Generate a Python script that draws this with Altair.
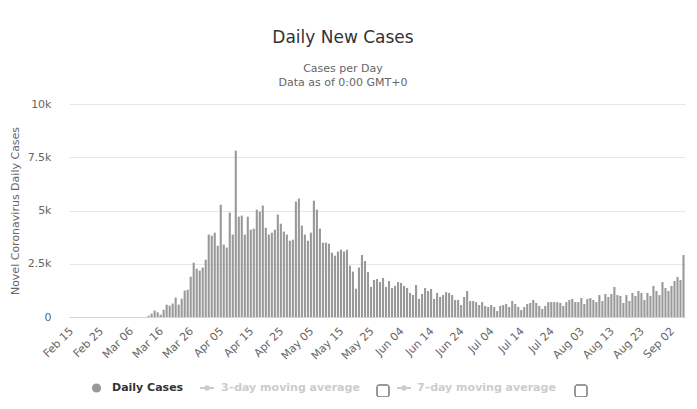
import altair as alt
import pandas as pd

# categories: one bar per day, Feb 15 .. Sep 06 (2020)
dates = pd.date_range("2020-02-15", "2020-09-06", freq="D").strftime("%b %d").tolist()

tick_labels = ["Feb 15", "Feb 25", "Mar 06", "Mar 16", "Mar 26", "Apr 05", "Apr 15",
               "Apr 25", "May 05", "May 15", "May 25", "Jun 04", "Jun 14", "Jun 24",
               "Jul 04", "Jul 14", "Jul 24", "Aug 03", "Aug 13", "Aug 23", "Sep 02"]

early_zero = [0] * 26
march_april = [60, 160, 300, 220, 110, 340, 580, 530, 630, 910, 580, 860, 1240, 1280,
               1890, 2550, 2270, 2180, 2320, 2690, 3870, 3820, 3960, 3350, 5270]
april_may = [3400, 3260, 4900, 3870, 7810, 4710, 4760, 3870, 4710, 4100, 4150, 5040,
             4950, 5230, 4190, 3870, 3960, 4100, 4810, 4380, 4010, 3870, 3580, 3630,
             5420, 5560, 4290, 3870, 3580, 3960, 5460, 5040, 4150, 3490, 3490, 3440,
             3020, 2880, 3070, 3160, 3070, 3160, 2410, 2130, 1330, 2320]
may_july = [2910, 2630, 2110, 1410, 1740, 1780, 1640, 1830, 1410, 1690, 1360, 1460,
            1640, 1600, 1460, 1360, 1130, 1030, 1500, 850, 1080, 1360, 1220, 1320,
            850, 1130, 940, 1030, 1170, 1130, 1030, 800, 800, 560, 940, 1220, 750,
            750, 700, 560, 700, 520, 470, 560, 470, 280, 520, 560, 610, 470, 750,
            610, 470]
july_sep = [330, 470, 610, 660, 800, 660, 520, 380, 520, 700, 700, 700, 700, 660, 520,
            700, 800, 850, 700, 700, 890, 610, 850, 890, 800, 700, 1030, 750, 1080,
            940, 1080, 1410, 1030, 990, 660, 1030, 750, 1130, 990, 1220, 1130, 800,
            1130, 990, 1460, 1220, 1030, 1640, 1360, 1220, 1460, 1690, 1880, 1740, 2910]

cases = early_zero + march_april + april_may + may_july + july_sep

legend_labels = ["Daily Cases", "3\u2013day moving average", "7\u2013day moving average"]

df = pd.DataFrame({"date": dates, "cases": cases})

FONT = "DejaVu Sans"
W, H = 616, 213

bars = alt.Chart(df).mark_bar(color="#999999").encode(
    x=alt.X(
        "date:O", sort=None,
        scale=alt.Scale(paddingInner=0.3, paddingOuter=0.15),
        axis=alt.Axis(values=tick_labels, labelAngle=-45, labelAlign="right",
                      labelBaseline="top", labelPadding=8, labelOffset=-3, ticks=False,
                      domainColor="#ccd6eb", labelColor="#666666", labelFont=FONT,
                      labelFontSize=11, title=None, grid=False, labelOverlap=False),
    ),
    y=alt.Y(
        "cases:Q",
        scale=alt.Scale(domain=[0, 10000], nice=False),
        axis=alt.Axis(values=[0, 2500, 5000, 7500, 10000],
                      labelExpr="datum.value == 0 ? '0' : datum.value / 1000 + 'k'",
                      gridColor="#e6e6e6", domain=False, ticks=False,
                      labelPadding=18, labelColor="#666666", labelFont=FONT,
                      labelFontSize=11,
                      title="Novel Coronavirus Daily Cases", titleFont=FONT,
                      titleFontSize=11, titleFontWeight="normal",
                      titleColor="#666666", titlePadding=7),
    ),
)

one = alt.Data(values=[{"k": 0}])
LY = 388 - 104
OX = 69

def px(v):
    return alt.value(v - OX)

legend = [
    alt.Chart(one).mark_circle(color="#999999", opacity=1, size=85).encode(
        x=px(96.5), y=alt.value(LY)),
    alt.Chart(one).mark_text(align="left", baseline="middle", font=FONT, fontSize=11,
                             fontWeight="bold", color="#333333", text=legend_labels[0]
                             ).encode(x=px(112), y=alt.value(LY)),
    alt.Chart(one).mark_rule(color="#cccccc", strokeWidth=2).encode(
        x=px(200), x2=px(214), y=alt.value(LY)),
    alt.Chart(one).mark_circle(color="#cccccc", opacity=1, size=30).encode(
        x=px(207), y=alt.value(LY)),
    alt.Chart(one).mark_text(align="left", baseline="middle", font=FONT, fontSize=11,
                             fontWeight="bold", color="#cccccc", text=legend_labels[1]
                             ).encode(x=px(221), y=alt.value(LY)),
    alt.Chart(one).mark_rect(fill="white", stroke="#333333", strokeWidth=1,
                             cornerRadius=2).encode(
        x=px(377), x2=px(389), y=alt.value(385 - 104), y2=alt.value(397 - 104)),
    alt.Chart(one).mark_rule(color="#cccccc", strokeWidth=2).encode(
        x=px(397), x2=px(411), y=alt.value(LY)),
    alt.Chart(one).mark_circle(color="#cccccc", opacity=1, size=30).encode(
        x=px(404), y=alt.value(LY)),
    alt.Chart(one).mark_text(align="left", baseline="middle", font=FONT, fontSize=11,
                             fontWeight="bold", color="#cccccc", text=legend_labels[2]
                             ).encode(x=px(417), y=alt.value(LY)),
    alt.Chart(one).mark_rect(fill="white", stroke="#333333", strokeWidth=1,
                             cornerRadius=2).encode(
        x=px(575), x2=px(587), y=alt.value(385 - 104), y2=alt.value(397 - 104)),
]

chart = alt.layer(bars, *legend).properties(
    width=W, height=H,
    title=alt.TitleParams(
        text="Daily New Cases",
        subtitle=["Cases per Day", "Data as of 0:00 GMT+0"],
        font=FONT, fontSize=17, fontWeight="normal", color="#333333",
        subtitleFont=FONT, subtitleFontSize=11, subtitleColor="#666666",
        subtitlePadding=16, subtitleLineHeight=14,
        anchor="middle", dx=-34, offset=9,
    ),
    padding={"left": 61, "top": 96, "right": 4, "bottom": 80},
    autosize=alt.AutoSizeParams(type="none"),
    background="white",
).configure_view(stroke=None)

chart.save("out.html", embed_options={"renderer": "svg", "actions": False})
